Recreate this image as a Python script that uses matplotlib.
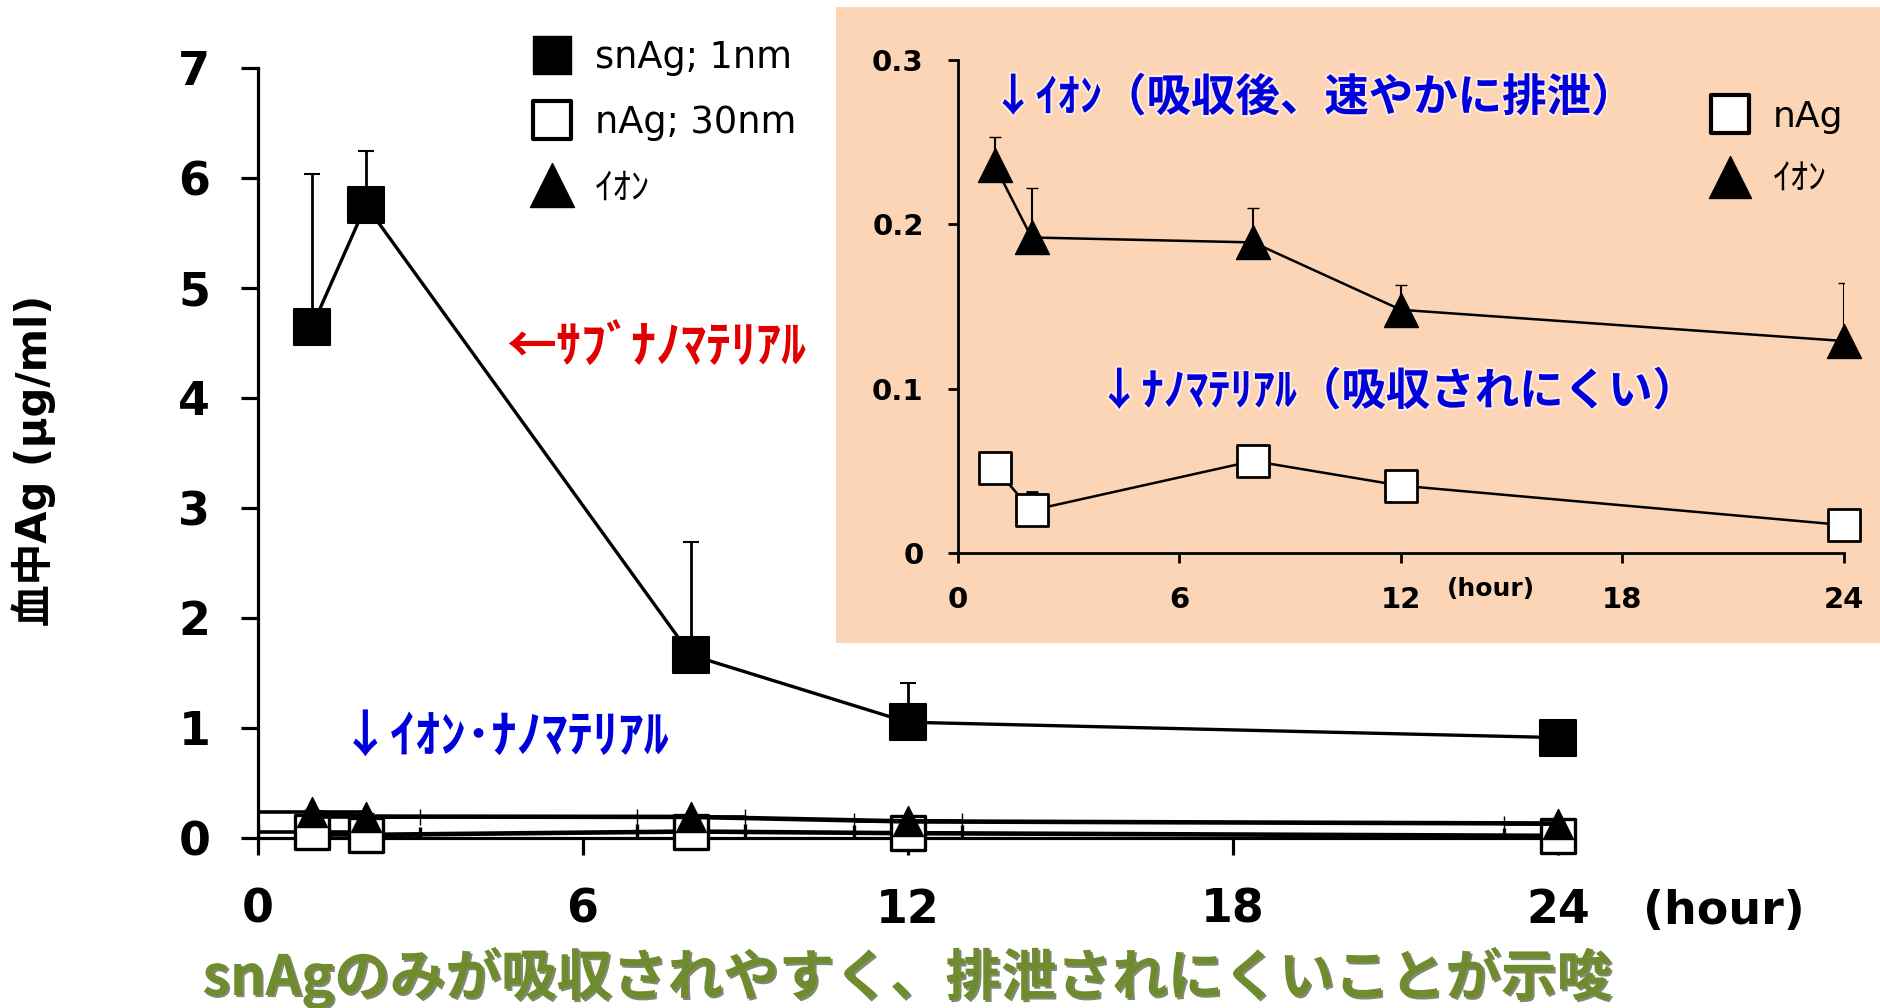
import matplotlib
matplotlib.use("Agg")
import matplotlib.pyplot as plt
import matplotlib.patheffects as pe
from matplotlib.lines import Line2D
from matplotlib.markers import MarkerStyle
from matplotlib.patches import Rectangle

plt.rcParams['font.family'] = ['DejaVu Sans', 'Noto Sans CJK JP']

# ---- data (blood Ag concentration, µg/ml) ----
hours = [1, 2, 8, 12, 24]
sn_ag = [4.64, 5.75, 1.66, 1.05, 0.91]
sn_ag_sd = [1.39, 0.49, 1.03, 0.36, 0.0]
n_ag = [0.052, 0.026, 0.056, 0.041, 0.017]
n_ag_sd = [0.0, 0.011, 0.0, 0.0, 0.0]
ion = [0.236, 0.192, 0.189, 0.148, 0.129]
ion_sd = [0.017, 0.030, 0.021, 0.015, 0.035]
time_sd = [1, 1, 1, 1, 1]

x_ticks = [0, 6, 12, 18, 24]
x_ticklabels = ['0', '6', '12', '18', '24']
main_yticks = [0, 1, 2, 3, 4, 5, 6, 7]
main_yticklabels = ['0', '1', '2', '3', '4', '5', '6', '7']
inset_yticks = [0, 0.1, 0.2, 0.3]
inset_yticklabels = ['0', '0.1', '0.2', '0.3']

series_labels = ['snAg; 1nm', 'nAg; 30nm', 'ｲｵﾝ']
inset_labels = ['nAg', 'ｲｵﾝ']

W, H = 1881, 1008
fig = plt.figure(figsize=(W / 100, H / 100), dpi=100)


def fx(px):
    return px / W


def fy(py):
    return 1 - py / H


zeros = [0] * len(hours)
sq = MarkerStyle('s', joinstyle='round')
tri = MarkerStyle('^', joinstyle='round')

# ---- main panel ----
ax = fig.add_axes([fx(257.5), fy(837.7), fx(1558) - fx(257.5), fy(67.7) - fy(837.7)])
ax.set_xlim(0, 24)
ax.set_ylim(0, 7)
for s in ['top', 'right']:
    ax.spines[s].set_visible(False)
for s in ['left', 'bottom']:
    ax.spines[s].set_linewidth(2.3)

eb = ax.errorbar(hours, sn_ag, yerr=[zeros, sn_ag_sd], fmt='-', color='k', lw=2.4,
                 marker=sq, ms=26, mfc='k', mec='k', mew=1.5,
                 ecolor='k', elinewidth=2.0, capsize=6, capthick=2.5, zorder=4)
eb[0].set_clip_on(False)
eb = ax.errorbar(hours, n_ag, yerr=[zeros, n_ag_sd], xerr=time_sd, fmt='-', color='k', lw=3.3,
                 marker=sq, ms=24, mfc='white', mec='k', mew=2.4,
                 ecolor='k', elinewidth=2.6, capsize=6, capthick=2.4, zorder=3)
eb[0].set_clip_on(False)
eb = ax.errorbar(hours, ion, yerr=[zeros, ion_sd], xerr=time_sd, fmt='-', color='k', lw=3.3,
                 marker=tri, ms=21, mfc='k', mec='k', mew=1.0,
                 ecolor='k', elinewidth=2.6, capsize=6, capthick=2.4, zorder=3.5)
eb[0].set_clip_on(False)

ax.set_xticks(x_ticks, labels=x_ticklabels, fontsize=33, fontweight='bold')
ax.set_yticks(main_yticks, labels=main_yticklabels, fontsize=33, fontweight='bold')
ax.tick_params(axis='both', direction='out', length=12, width=2.3)
ax.tick_params(axis='x', pad=24)
ax.tick_params(axis='y', pad=22)

main_handles = [
    Line2D([], [], ls='none', marker=sq, ms=28, mfc='k', mec='k'),
    Line2D([], [], ls='none', marker=sq, ms=27, mfc='white', mec='k', mew=3),
    Line2D([], [], ls='none', marker=tri, ms=31, mfc='k', mec='k'),
]
ax.legend(main_handles, series_labels, loc='upper left',
          bbox_to_anchor=(fx(533.6), fy(38.6)), bbox_transform=fig.transFigure,
          frameon=False, fontsize=26.5, handlelength=1.0, handletextpad=0.67,
          labelspacing=0.77, borderpad=0, borderaxespad=0)

fig.text(fx(1724), fy(912), '(hour)', fontsize=33, fontweight='bold', ha='center', va='center')
fig.text(fx(33.5), fy(460), '血中Ag (μg/ml)', fontsize=30, fontweight='bold',
         rotation=90, ha='center', va='center')

cjk = ['Noto Sans CJK JP', 'DejaVu Sans']
fig.text(fx(506), fy(348), '←ｻﾌﾞﾅﾉﾏﾃﾘｱﾙ', family=cjk, fontsize=36, fontweight='bold',
         color='#E00000', ha='left', va='center')
fig.text(fx(340), fy(737), '↓ｲｵﾝ･ﾅﾉﾏﾃﾘｱﾙ', family=cjk, fontsize=36.5, fontweight='bold',
         color='#0000DD', ha='left', va='center')

# ---- highlighted inset panel ----
fig.add_artist(Rectangle((fx(836), fy(642.7)), 1 - fx(836), fy(7) - fy(642.7),
                         transform=fig.transFigure, facecolor='#FBD5B5',
                         edgecolor='none', zorder=1))

ax2 = fig.add_axes([fx(957.7), fy(553), fx(1844) - fx(957.7), fy(60) - fy(553)], zorder=2)
ax2.set_facecolor('none')
ax2.set_xlim(0, 24)
ax2.set_ylim(0, 0.3)
for s in ['top', 'right']:
    ax2.spines[s].set_visible(False)
for s in ['left', 'bottom']:
    ax2.spines[s].set_linewidth(2.0)

eb = ax2.errorbar(hours, ion, yerr=[zeros, ion_sd], fmt='-', color='k', lw=1.8,
                  marker=tri, ms=24, mfc='k', mec='k', mew=1.0,
                  ecolor='k', elinewidth=1.5, capsize=4.5, capthick=2.0, zorder=3)
eb[0].set_clip_on(False)
eb = ax2.errorbar(hours, n_ag, yerr=[zeros, n_ag_sd], fmt='-', color='k', lw=1.8,
                  marker=sq, ms=23, mfc='white', mec='k', mew=2.0,
                  ecolor='k', elinewidth=1.5, capsize=4.5, capthick=2.0, zorder=3)
eb[0].set_clip_on(False)

ax2.set_xticks(x_ticks, labels=x_ticklabels, fontsize=21, fontweight='bold')
ax2.set_yticks(inset_yticks, labels=inset_yticklabels, fontsize=21, fontweight='bold')
ax2.tick_params(axis='both', direction='out', length=7.5, width=2.0)
ax2.tick_params(axis='x', pad=16)
ax2.tick_params(axis='y', pad=17)

inset_handles = [
    Line2D([], [], ls='none', marker=sq, ms=28, mfc='white', mec='k', mew=3),
    Line2D([], [], ls='none', marker=tri, ms=30, mfc='k', mec='k'),
]
ax2.legend(inset_handles, inset_labels, loc='upper left',
           bbox_to_anchor=(fx(1712), fy(100)), bbox_transform=fig.transFigure,
           frameon=False, fontsize=26, handlelength=1.0, handletextpad=0.69,
           labelspacing=0.79, borderpad=0, borderaxespad=0)

fig.text(fx(1491), fy(589), '(hour)', fontsize=18, fontweight='bold',
         ha='center', va='center', zorder=3)

glow = [pe.withStroke(linewidth=3, foreground='white', alpha=0.5)]
fig.text(fx(991), fy(98), '↓ｲｵﾝ（吸収後、速やかに排泄）', family=cjk, fontsize=32,
         fontweight='bold', color='#0000DD', ha='left', va='center', zorder=3,
         path_effects=glow)
fig.text(fx(1097), fy(392), '↓ﾅﾉﾏﾃﾘｱﾙ（吸収されにくい）', family=cjk, fontsize=32,
         fontweight='bold', color='#0000DD', ha='left', va='center', zorder=3,
         path_effects=glow)

# ---- conclusion line ----
fig.text(fx(906.5), fy(978), 'snAgのみが吸収されやすく、排泄されにくいことが示唆',
         family=cjk, fontsize=40, fontweight='bold', color='#6E8B2E',
         ha='center', va='center',
         path_effects=[pe.SimplePatchShadow(offset=(1.5, -1.5), shadow_rgbFace='#2f3a14', alpha=0.6),
                       pe.Normal()])

fig.savefig('out.png', dpi=100)
